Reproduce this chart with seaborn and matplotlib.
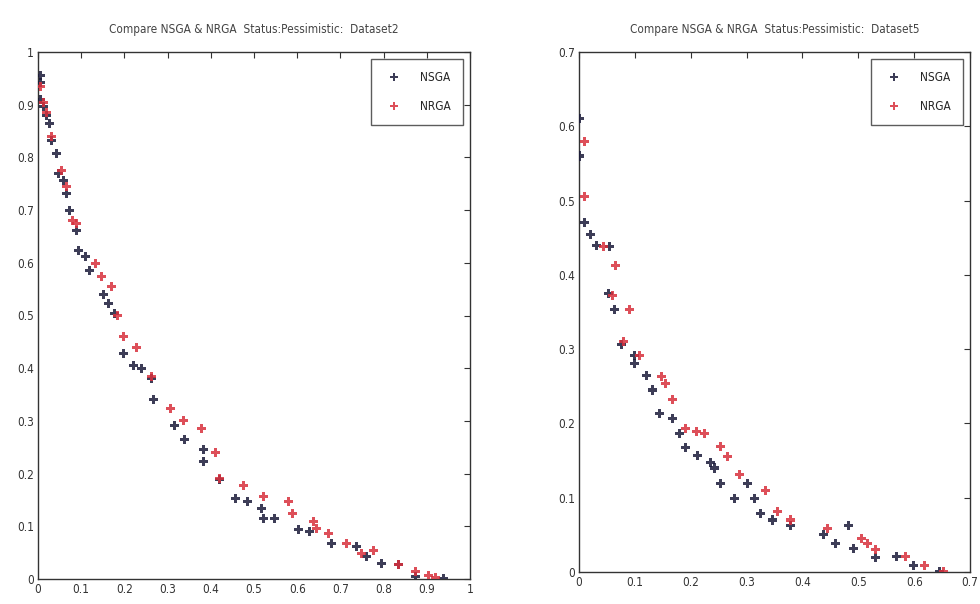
import matplotlib
matplotlib.use("Agg")
import matplotlib.pyplot as plt
import seaborn as sns
import pandas as pd

# Dataset2 (left panel)
nsga2_x = [0.005, 0.005, 0.005, 0.012, 0.02, 0.026, 0.032, 0.042, 0.047, 0.059, 0.066, 0.074,
           0.09, 0.093, 0.109, 0.12, 0.151, 0.163, 0.178, 0.197, 0.22, 0.24, 0.263, 0.268,
           0.317, 0.34, 0.382, 0.382, 0.42, 0.458, 0.485, 0.517, 0.522, 0.547, 0.603, 0.628,
           0.68, 0.738, 0.76, 0.795, 0.834, 0.873, 0.938]
nsga2_y = [0.956, 0.943, 0.909, 0.896, 0.88, 0.865, 0.833, 0.808, 0.77, 0.757, 0.732, 0.70,
           0.662, 0.624, 0.612, 0.586, 0.539, 0.523, 0.504, 0.428, 0.406, 0.40, 0.381, 0.34,
           0.292, 0.264, 0.245, 0.223, 0.188, 0.153, 0.147, 0.134, 0.115, 0.115, 0.093, 0.09,
           0.068, 0.061, 0.042, 0.03, 0.027, 0.005, 0.0]
nrga2_x = [0.005, 0.012, 0.02, 0.032, 0.055, 0.066, 0.081, 0.09, 0.132, 0.147, 0.171, 0.185,
           0.197, 0.228, 0.263, 0.306, 0.336, 0.379, 0.41, 0.42, 0.475, 0.522, 0.58, 0.59,
           0.637, 0.645, 0.672, 0.714, 0.749, 0.777, 0.834, 0.873, 0.905, 0.92]
nrga2_y = [0.935, 0.905, 0.885, 0.84, 0.776, 0.745, 0.681, 0.675, 0.599, 0.574, 0.555, 0.50,
           0.46, 0.44, 0.385, 0.324, 0.30, 0.286, 0.24, 0.19, 0.178, 0.156, 0.147, 0.125,
           0.109, 0.096, 0.087, 0.068, 0.049, 0.055, 0.027, 0.014, 0.006, 0.003]

# Dataset5 (right panel)
nsga5_x = [0.0, 0.0, 0.009, 0.02, 0.032, 0.055, 0.052, 0.064, 0.076, 0.1, 0.1, 0.12, 0.132,
           0.144, 0.167, 0.18, 0.19, 0.213, 0.236, 0.243, 0.254, 0.278, 0.302, 0.314, 0.325,
           0.346, 0.379, 0.438, 0.459, 0.483, 0.492, 0.53, 0.569, 0.599, 0.646]
nsga5_y = [0.611, 0.56, 0.471, 0.454, 0.44, 0.438, 0.375, 0.354, 0.306, 0.292, 0.281, 0.265,
           0.245, 0.214, 0.207, 0.187, 0.167, 0.157, 0.148, 0.14, 0.119, 0.099, 0.119, 0.099,
           0.079, 0.07, 0.062, 0.05, 0.039, 0.062, 0.032, 0.02, 0.021, 0.009, 0.0]
nrga5_x = [0.009, 0.009, 0.043, 0.066, 0.06, 0.091, 0.08, 0.108, 0.147, 0.155, 0.167, 0.19,
           0.21, 0.224, 0.254, 0.265, 0.287, 0.334, 0.356, 0.379, 0.444, 0.506, 0.516, 0.53,
           0.584, 0.619, 0.652]
nrga5_y = [0.579, 0.505, 0.438, 0.413, 0.372, 0.354, 0.31, 0.292, 0.263, 0.254, 0.232, 0.193,
           0.189, 0.186, 0.169, 0.155, 0.131, 0.11, 0.081, 0.07, 0.059, 0.045, 0.039, 0.03,
           0.021, 0.009, 0.0]

panels = [
    ("Compare NSGA & NRGA  Status:Pessimistic:  Dataset2", nsga2_x, nsga2_y, nrga2_x, nrga2_y, 1.0,
     [0, 0.1, 0.2, 0.3, 0.4, 0.5, 0.6, 0.7, 0.8, 0.9, 1]),
    ("Compare NSGA & NRGA  Status:Pessimistic:  Dataset5", nsga5_x, nsga5_y, nrga5_x, nrga5_y, 0.7,
     [0, 0.1, 0.2, 0.3, 0.4, 0.5, 0.6, 0.7]),
]

sns.set_style("white")
plt.rcParams['font.family'] = ['DejaVu Sans']
plt.rcParams['font.stretch'] = 'condensed'
plt.rcParams['xtick.direction'] = 'in'
plt.rcParams['ytick.direction'] = 'in'

fig = plt.figure(figsize=(9.8, 6.04), dpi=100)
W, H = 980, 604
boxes = [(38, 52, 470, 579), (579, 52, 970, 572)]

for (title, ax_, ay_, bx_, by_, lim, ticks), (l, t, r, b) in zip(panels, boxes):
    ax = fig.add_axes([l / W, 1 - b / H, (r - l) / W, (b - t) / H])
    df = pd.concat([
        pd.DataFrame({'x': ax_, 'y': ay_, 'alg': 'NSGA'}),
        pd.DataFrame({'x': bx_, 'y': by_, 'alg': 'NRGA'}),
    ])
    sns.scatterplot(data=df, x='x', y='y', hue='alg', style='alg',
                    palette={'NSGA': '#1b1b3a', 'NRGA': '#d8303c'},
                    markers={'NSGA': 'P', 'NRGA': 'P'}, s=42, linewidth=0,
                    alpha=0.85, ax=ax, zorder=3)
    ax.set_xlim(0, lim)
    ax.set_ylim(0, lim)
    ax.set_xticks(ticks)
    ax.set_yticks(ticks)
    ax.set_xticklabels([('%g' % v) for v in ticks])
    ax.set_yticklabels([('%g' % v) for v in ticks])
    ax.tick_params(top=True, right=True, length=4, width=0.8, labelsize=8.5,
                   colors='#333333', pad=3)
    for sp in ax.spines.values():
        sp.set_color('#333333')
        sp.set_linewidth(1.0)
    ax.set_xlabel('')
    ax.set_ylabel('')
    ax.set_title(title, fontsize=8.5, color='#444444', pad=14)
    leg = ax.legend(loc='upper right', fontsize=8.5, frameon=True, fancybox=False,
                    borderpad=1.0, labelspacing=1.4, handletextpad=1.2,
                    borderaxespad=0.6, markerscale=0.8)
    leg.get_frame().set_edgecolor('#333333')
    leg.get_frame().set_linewidth(1.0)

fig.savefig('out.png', dpi=100)
